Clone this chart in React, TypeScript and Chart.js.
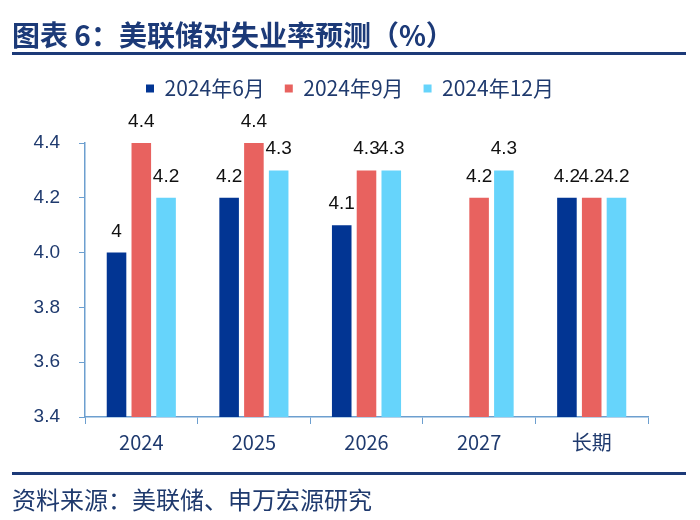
import React, { useEffect, useRef } from 'react';
import { Chart, registerables } from 'chart.js';

Chart.register(...registerables);

// ---- data ----
const categories = ['2024', '2025', '2026', '2027', '长期'];
const seriesNames = ['2024年6月', '2024年9月', '2024年12月'];
const jun2024: (number | null)[] = [4.0, 4.2, 4.1, null, 4.2];
const sep2024: (number | null)[] = [4.4, 4.4, 4.3, 4.2, 4.2];
const dec2024: (number | null)[] = [4.2, 4.3, 4.3, 4.3, 4.2];
const yTicks = [3.4, 3.6, 3.8, 4.0, 4.2, 4.4];

const titleText = '图表 6：美联储对失业率预测（%）';
const sourceText = '资料来源：美联储、申万宏源研究';

// ---- styles ----
const NAVY = '#1c3a78';
const TEXT_NAVY = '#1f3a6e';
const AXIS = '#6d9fcf';
const COLORS = ['#023593', '#e8625f', '#66d4fb'];
const FONT = '"Noto Sans CJK SC", "Liberation Sans", sans-serif';
const NUM_FONT = '"Liberation Sans", "Noto Sans CJK SC", sans-serif';

const valueLabels = {
  id: 'valueLabels',
  afterDatasetsDraw(chart: any) {
    const ctx = chart.ctx;
    ctx.save();
    ctx.font = '19px ' + NUM_FONT;
    ctx.fillStyle = '#111111';
    ctx.textAlign = 'center';
    ctx.textBaseline = 'alphabetic';
    chart.data.datasets.forEach((ds: any, i: number) => {
      const meta = chart.getDatasetMeta(i);
      meta.data.forEach((el: any, j: number) => {
        const v = ds.data[j];
        if (v == null) return;
        ctx.fillText(String(v), el.x, el.y - 16);
      });
    });
    ctx.restore();
  },
};

export default function App() {
  const ref = useRef<HTMLCanvasElement | null>(null);

  useEffect(() => {
    if (!ref.current) return;
    const seriesData = [jun2024, sep2024, dec2024];
    const chart = new Chart(ref.current, {
      type: 'bar',
      data: {
        labels: categories,
        datasets: seriesNames.map((name, i) => ({
          label: name,
          data: seriesData[i],
          backgroundColor: COLORS[i],
          borderWidth: 0,
          categoryPercentage: 0.66,
          barPercentage: 0.79,
        })),
      },
      options: {
        responsive: false,
        animation: false,
        layout: { padding: { top: 58, right: 0, bottom: 53, left: 0 } },
        plugins: {
          legend: {
            position: 'top',
            labels: {
              boxWidth: 8,
              boxHeight: 8,
              padding: 20,
              color: TEXT_NAVY,
              font: { size: 21, family: FONT },
            },
          },
          title: {
            display: true,
            text: '',
            position: 'top',
            weight: 500,
            font: { size: 10, lineHeight: '0px' },
            padding: { top: 0, bottom: 34 },
          },
          tooltip: { enabled: false },
        },
        scales: {
          x: {
            afterFit(scale: any) {
              scale.height = 50;
            },
            ticks: { color: TEXT_NAVY, font: { size: 20, family: FONT }, padding: 6 },
            grid: {
              display: true,
              drawOnChartArea: false,
              tickLength: 7,
              color: AXIS,
              offset: true,
            },
            border: { display: true, color: AXIS, width: 1.5 },
          },
          y: {
            min: 3.4,
            max: 4.4,
            afterBuildTicks(scale: any) {
              scale.ticks = yTicks.map((value) => ({ value }));
            },
            afterFit(scale: any) {
              scale.width = 85;
            },
            ticks: {
              color: TEXT_NAVY,
              font: { size: 19, family: NUM_FONT },
              padding: 19,
              callback: (v: any) => Number(v).toFixed(1),
            },
            grid: {
              display: true,
              drawOnChartArea: false,
              tickLength: 6,
              color: AXIS,
            },
            border: { display: true, color: AXIS, width: 1.5 },
          },
          // empty right-hand margin so the legend stays centred on the page
          yRight: {
            position: 'right',
            display: true,
            afterFit(scale: any) {
              scale.width = 52;
            },
            ticks: { display: false },
            grid: { display: false },
            border: { display: false },
          },
        },
      },
      plugins: [valueLabels],
    });
    return () => chart.destroy();
  }, []);

  return (
    <div
      style={{
        position: 'fixed',
        left: 0,
        top: 0,
        width: 700,
        height: 520,
        background: '#ffffff',
        overflow: 'hidden',
      }}
    >
      <canvas
        ref={ref}
        width={700}
        height={520}
        style={{ position: 'absolute', left: 0, top: 0, width: 700, height: 520 }}
      />
      <div
        style={{
          position: 'absolute',
          left: 12,
          top: 20,
          fontFamily: FONT,
          fontWeight: 700,
          fontSize: 28,
          lineHeight: '28px',
          color: NAVY,
          whiteSpace: 'nowrap',
        }}
      >
        {titleText}
      </div>
      <div style={{ position: 'absolute', left: 12, top: 52, width: 674, height: 3, background: NAVY }} />
      <div style={{ position: 'absolute', left: 12, top: 472, width: 674, height: 3, background: NAVY }} />
      <div
        style={{
          position: 'absolute',
          left: 12,
          top: 487,
          fontFamily: FONT,
          fontSize: 24,
          lineHeight: '24px',
          color: TEXT_NAVY,
          whiteSpace: 'nowrap',
        }}
      >
        {sourceText}
      </div>
    </div>
  );
}
